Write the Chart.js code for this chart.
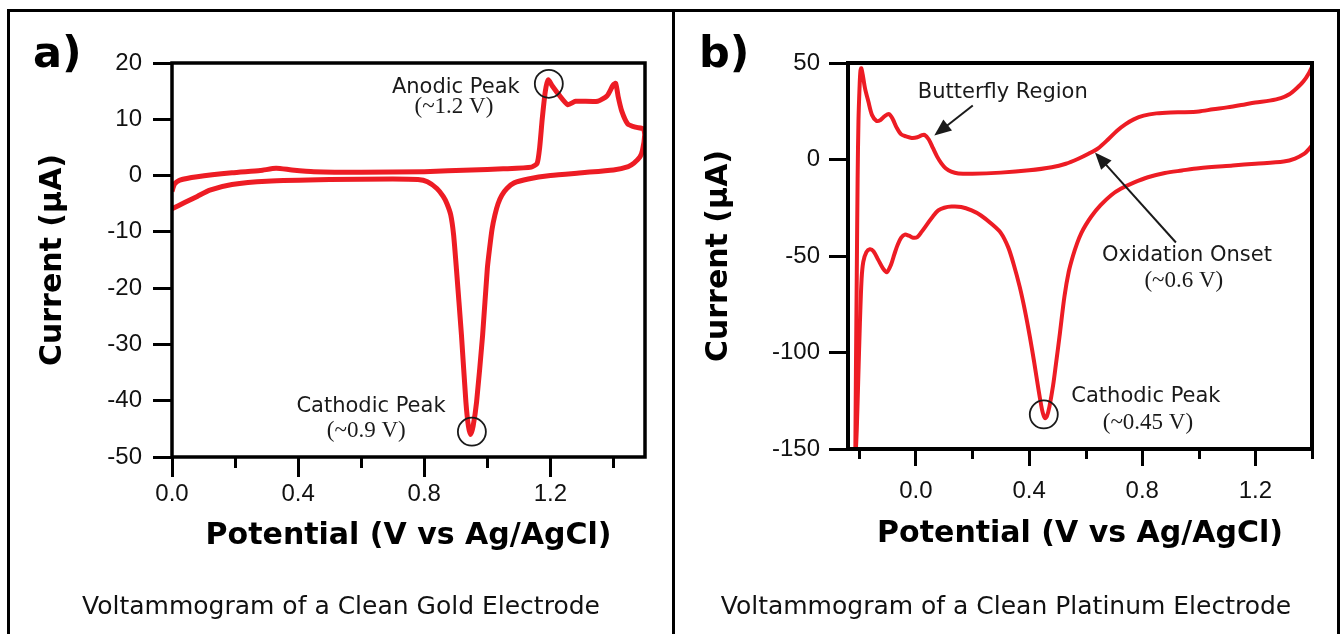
<!DOCTYPE html>
<html>
<head>
<meta charset="utf-8">
<title>Voltammograms</title>
<script src="https://cdn.jsdelivr.net/npm/chart.js@4.4.1/dist/chart.umd.min.js"></script>
<style>
  body { margin: 0; width: 1341px; height: 634px; overflow: hidden; background: #fff; position: relative; }
  .rule { position: absolute; background: #000; }
  .panel { position: absolute; top: 0; height: 634px; }
  .panel canvas { position: absolute; left: 0; top: 0; }
  .tag { position: absolute; top: 31px; font: bold 43px 'DejaVu Sans'; line-height: 43px; color: #000; }
  .caption { position: absolute; top: 593px; height: 25px; text-align: center; font: 25px 'DejaVu Sans'; line-height: 25px; color: #111; }
</style>
</head>
<body>
<div class="rule" style="left:7px;top:9px;width:1333px;height:3px"></div>
<div class="rule" style="left:7px;top:9px;width:3px;height:625px"></div>
<div class="rule" style="left:672px;top:9px;width:3px;height:625px"></div>
<div class="rule" style="left:1337px;top:9px;width:3px;height:625px"></div>

<div class="panel" style="left:0;width:673px">
  <canvas id="goldChart" width="673" height="634"></canvas>
</div>
<div class="panel" style="left:673px;width:668px">
  <canvas id="ptChart" width="668" height="634"></canvas>
</div>

<div class="tag" style="left:33px">a)</div>
<div class="tag" style="left:699px">b)</div>
<div class="caption" style="left:10px;width:662px">Voltammogram of a Clean Gold Electrode</div>
<div class="caption" style="left:675px;width:662px">Voltammogram of a Clean Platinum Electrode</div>

<script>
// ---- gold electrode (panel a) ----
// forward (anodic) sweep
const goldFwdV = [0.000, 0.008, 0.025, 0.08, 0.19, 0.28, 0.33, 0.38, 0.45, 0.60, 0.80, 0.95, 1.05, 1.14, 1.158, 1.166, 1.174, 1.184, 1.193, 1.205, 1.225, 1.255, 1.28, 1.35, 1.38, 1.398, 1.407, 1.415, 1.426, 1.445, 1.47, 1.495];
const goldFwdI = [-2.8, -1.5, -0.8, -0.2, 0.5, 0.9, 1.3, 1.0, 0.7, 0.6, 0.7, 1.0, 1.2, 1.5, 2.2, 5.0, 10.0, 15.0, 17.0, 16.0, 14.5, 12.6, 13.2, 13.2, 14.2, 16.0, 16.4, 14.0, 11.5, 9.2, 8.6, 8.3];
// reverse (cathodic) sweep
const goldRevV = [1.499, 1.492, 1.484, 1.465, 1.447, 1.40, 1.30, 1.20, 1.13, 1.085, 1.062, 1.046, 1.034, 1.024, 1.015, 1.007, 1.000, 0.985, 0.966, 0.955, 0.947, 0.940, 0.932, 0.918, 0.902, 0.893, 0.884, 0.872, 0.860, 0.840, 0.810, 0.780, 0.70, 0.50, 0.30, 0.19, 0.12, 0.08, 0.04, 0.000];
const goldRevI = [7.2, 4.5, 3.3, 2.2, 1.6, 1.0, 0.5, 0.0, -0.6, -1.3, -2.3, -3.5, -5.0, -7.0, -9.5, -13.0, -16.5, -28.4, -40.2, -44.5, -46.0, -44.5, -40.2, -28.4, -16.6, -10.5, -7.0, -5.0, -3.7, -2.3, -1.1, -0.7, -0.6, -0.7, -1.0, -1.6, -2.6, -3.7, -4.8, -5.9];

// ---- platinum electrode (panel b) ----
const ptFwdV = [-0.214, -0.212, -0.209, -0.206, -0.203, -0.199, -0.196, -0.193, -0.188, -0.180, -0.168, -0.155, -0.139, -0.125, -0.110, -0.095, -0.082, -0.068, -0.052, -0.035, -0.015, 0.005, 0.020, 0.030, 0.045, 0.060, 0.075, 0.090, 0.105, 0.125, 0.150, 0.200, 0.300, 0.400, 0.480, 0.530, 0.574, 0.610, 0.644, 0.680, 0.710, 0.740, 0.770, 0.805, 0.850, 0.900, 0.950, 1.000, 1.050, 1.100, 1.150, 1.200, 1.250, 1.290, 1.320, 1.345, 1.370, 1.390, 1.405];
const ptFwdI = [-150, -110, -60, -10, 20, 38, 46, 47.3, 44, 37, 30, 23, 20, 20.5, 22.5, 23.5, 21, 16.5, 13, 12, 11.2, 11.5, 12.5, 12.8, 10.5, 6, 1.5, -2, -4.5, -6.3, -7.2, -7.4, -6.8, -5.6, -4, -2.2, 0.4, 3, 5.8, 10.5, 14.8, 18.2, 20.8, 22.7, 23.9, 24.4, 24.5, 24.9, 26, 27, 28.2, 29.5, 30.5, 31.8, 33.8, 36.8, 40.5, 45, 49.5];
const ptRevV = [1.409, 1.390, 1.373, 1.340, 1.300, 1.200, 1.120, 1.000, 0.940, 0.880, 0.820, 0.770, 0.724, 0.690, 0.652, 0.620, 0.600, 0.585, 0.570, 0.555, 0.540, 0.525, 0.509, 0.495, 0.485, 0.472, 0.463, 0.456, 0.448, 0.440, 0.432, 0.418, 0.403, 0.385, 0.367, 0.345, 0.326, 0.300, 0.267, 0.230, 0.197, 0.160, 0.126, 0.100, 0.079, 0.060, 0.040, 0.020, 0.005, -0.010, -0.025, -0.039, -0.052, -0.064, -0.076, -0.088, -0.103, -0.116, -0.133, -0.150, -0.163, -0.175, -0.186, -0.192, -0.198, -0.204, -0.209, -0.212];
const ptRevI = [9, 5.5, 3, 0.5, -1, -2.2, -3.1, -4.5, -5.7, -7, -9.2, -12, -15.2, -18.5, -23.8, -29.5, -34, -38, -43.3, -50, -58.3, -71, -90, -106, -117, -128, -133, -134, -131, -125, -118, -105, -92, -78, -66, -54, -45.4, -38, -33.3, -29, -26.4, -24.6, -24.4, -25, -26.4, -29.5, -33.5, -37.5, -40.2, -40.5, -39.5, -38.9, -40.5, -44, -49, -54.5, -58.4, -56.5, -52, -47.5, -46.5, -48, -53, -62, -85, -115, -140, -150];

// ticks
const goldXTicks = [0, 0.2, 0.4, 0.6, 0.8, 1.0, 1.2, 1.4];
const goldXLabels = ['0.0', '', '0.4', '', '0.8', '', '1.2', ''];
const goldYTicks = [-50, -40, -30, -20, -10, 0, 10, 20];
const goldYLabels = ['-50', '-40', '-30', '-20', '-10', '0', '10', '20'];
const ptXTicks = [-0.2, 0, 0.2, 0.4, 0.6, 0.8, 1.0, 1.2, 1.4];
const ptXLabels = ['', '0.0', '', '0.4', '', '0.8', '', '1.2', ''];
const ptYTicks = [-150, -100, -50, 0, 50];
const ptYLabels = ['-150', '-100', '-50', '0', '50'];

// annotations, placed in data units
const goldNotes = [
    { kind: 'text', x: 0.900, y: 15.6, text: 'Anodic Peak' },
    { kind: 'serif', x: 0.894, y: 12.2, text: '(~1.2 V)' },
    { kind: 'circle', x: 1.195, y: 16.3 },
    { kind: 'text', x: 0.631, y: -41.1, text: 'Cathodic Peak' },
    { kind: 'serif', x: 0.616, y: -45.3, text: '(~0.9 V)' },
    { kind: 'circle', x: 0.951, y: -45.5 }
];
const ptNotes = [
    { kind: 'text', x: 0.307, y: 34.7, text: 'Butterfly Region' },
    { kind: 'arrow', x: 0.201, y: 28, x2: 0.065, y2: 12.4 },
    { kind: 'text', x: 0.958, y: -49.7, text: 'Oxidation Onset' },
    { kind: 'serif', x: 0.947, y: -62.7, text: '(~0.6 V)' },
    { kind: 'arrow', x: 0.919, y: -43, x2: 0.633, y2: 3.6 },
    { kind: 'text', x: 0.813, y: -122.8, text: 'Cathodic Peak' },
    { kind: 'serif', x: 0.820, y: -136.3, text: '(~0.45 V)' },
    { kind: 'circle', x: 0.452, y: -132.1 }
];

const RED = '#ed1c24';

const toPoints = (xs, ys) => xs.map((x, i) => ({ x: x, y: ys[i] }));

// frame box, short minor ticks and the callouts
const panelDecor = {
    id: 'panelDecor',
    afterDraw(chart, args, opts) {
        const { ctx, chartArea } = chart;
        const sx = chart.scales.x;
        const sy = chart.scales.y;
        ctx.save();
        ctx.strokeStyle = '#000';
        ctx.lineWidth = opts.frameWidth;
        ctx.strokeRect(chartArea.left, chartArea.top, chartArea.right - chartArea.left, chartArea.bottom - chartArea.top);

        ctx.lineWidth = 3;
        opts.xTicks.forEach((v, i) => {
            if (opts.xLabels[i]) return;
            const px = Math.round(sx.getPixelForValue(v)) + 0.5;
            ctx.beginPath();
            ctx.moveTo(px, chartArea.bottom);
            ctx.lineTo(px, chartArea.bottom + opts.minorLen);
            ctx.stroke();
        });

        opts.notes.forEach((n) => {
            const px = sx.getPixelForValue(n.x);
            const py = sy.getPixelForValue(n.y);
            ctx.fillStyle = '#1a1a1a';
            ctx.strokeStyle = '#1a1a1a';
            ctx.textAlign = 'center';
            ctx.textBaseline = 'middle';
            if (n.kind === 'text') {
                ctx.font = '21px "DejaVu Sans"';
                ctx.fillText(n.text, px, py);
            } else if (n.kind === 'serif') {
                ctx.font = '23px "Liberation Serif"';
                ctx.fillText(n.text, px, py);
            } else if (n.kind === 'circle') {
                ctx.lineWidth = 1.8;
                ctx.beginPath();
                ctx.arc(px, py, 14, 0, Math.PI * 2);
                ctx.stroke();
            } else if (n.kind === 'arrow') {
                const tx = sx.getPixelForValue(n.x2);
                const ty = sy.getPixelForValue(n.y2);
                const ang = Math.atan2(ty - py, tx - px);
                const head = 17;
                ctx.lineWidth = 2;
                ctx.beginPath();
                ctx.moveTo(px, py);
                ctx.lineTo(tx - Math.cos(ang) * head * 0.8, ty - Math.sin(ang) * head * 0.8);
                ctx.stroke();
                ctx.beginPath();
                ctx.moveTo(tx, ty);
                ctx.lineTo(tx - Math.cos(ang) * head + Math.sin(ang) * 7, ty - Math.sin(ang) * head - Math.cos(ang) * 7);
                ctx.lineTo(tx - Math.cos(ang) * head - Math.sin(ang) * 7, ty - Math.sin(ang) * head + Math.cos(ang) * 7);
                ctx.closePath();
                ctx.fill();
            }
        });
        ctx.restore();
    }
};

Chart.defaults.font.family = '"Liberation Sans"';
Chart.defaults.color = '#111';

const makeChart = (canvasId, cfg) => new Chart(document.getElementById(canvasId), {
    type: 'scatter',
    data: {
        datasets: cfg.series.map((pts) => ({
            data: pts,
            showLine: true,
            borderColor: RED,
            borderWidth: cfg.lineWidth,
            pointRadius: 0,
            tension: cfg.tension,
            fill: false
        }))
    },
    options: {
        responsive: false,
        animation: false,
        layout: { padding: cfg.padding },
        plugins: {
            legend: { display: false },
            tooltip: { enabled: false },
            panelDecor: {
                frameWidth: cfg.frameWidth,
                minorLen: cfg.minorLen,
                xTicks: cfg.xTicks,
                xLabels: cfg.xLabels,
                notes: cfg.notes
            }
        },
        scales: {
            x: {
                type: 'linear',
                min: cfg.xMin,
                max: cfg.xMax,
                afterFit: (s) => { s.height = cfg.xAxisHeight; },
                afterBuildTicks: (s) => { s.ticks = cfg.xTicks.map((v) => ({ value: v })); },
                border: { display: false },
                grid: {
                    drawOnChartArea: false,
                    tickLength: cfg.majorLen,
                    tickWidth: 3,
                    tickColor: (c) => (cfg.xLabels[c.index] ? '#000' : 'rgba(0,0,0,0)')
                },
                ticks: {
                    autoSkip: false,
                    maxRotation: 0,
                    padding: cfg.xTickPad,
                    color: '#111',
                    font: { size: 24 },
                    callback: (v, i) => cfg.xLabels[i]
                },
                title: {
                    display: true,
                    text: 'Potential (V vs Ag/AgCl)',
                    color: '#000',
                    font: { family: '"DejaVu Sans"', size: 30, weight: 'bold' },
                    padding: { top: 0, bottom: cfg.xTitlePad }
                }
            },
            y: {
                type: 'linear',
                min: cfg.yMin,
                max: cfg.yMax,
                afterFit: (s) => { s.width = cfg.yAxisWidth; },
                afterBuildTicks: (s) => { s.ticks = cfg.yTicks.map((v) => ({ value: v })); },
                border: { display: false },
                grid: {
                    drawOnChartArea: false,
                    tickLength: 19,
                    tickWidth: 3,
                    tickColor: '#000'
                },
                ticks: {
                    autoSkip: false,
                    padding: cfg.yTickPad,
                    color: '#111',
                    font: { size: 24 },
                    callback: (v, i) => cfg.yLabels[i]
                },
                title: {
                    display: true,
                    text: 'Current (μA)',
                    color: '#000',
                    font: { family: '"DejaVu Sans"', size: 30, weight: 'bold' },
                    padding: { top: cfg.yTitlePad, bottom: 0 }
                }
            }
        }
    },
    plugins: [panelDecor]
});

makeChart('goldChart', {
    series: [toPoints(goldFwdV.concat(goldRevV), goldFwdI.concat(goldRevI))],
    lineWidth: 5,
    tension: 0.2,
    frameWidth: 3.5,
    padding: { top: 63, right: 28, bottom: 67, left: 0 },
    xMin: 0, xMax: 1.5, yMin: -50, yMax: 20,
    xTicks: goldXTicks, xLabels: goldXLabels,
    yTicks: goldYTicks, yLabels: goldYLabels,
    xAxisHeight: 110, yAxisWidth: 172,
    majorLen: 20, minorLen: 11,
    xTickPad: 3, yTickPad: 11,
    xTitlePad: 13, yTitlePad: 35,
    notes: goldNotes
});

makeChart('ptChart', {
    series: [toPoints(ptFwdV, ptFwdI), toPoints(ptRevV, ptRevI)],
    lineWidth: 4,
    tension: 0.3,
    frameWidth: 4,
    padding: { top: 63, right: 29, bottom: 75, left: 0 },
    xMin: -0.24, xMax: 1.4, yMin: -150, yMax: 50,
    xTicks: ptXTicks, xLabels: ptXLabels,
    yTicks: ptYTicks, yLabels: ptYLabels,
    xAxisHeight: 110, yAxisWidth: 175,
    majorLen: 17, minorLen: 10,
    xTickPad: 11, yTickPad: 9,
    xTitlePad: 7, yTitlePad: 28,
    notes: ptNotes
});
</script>
</body>
</html>
